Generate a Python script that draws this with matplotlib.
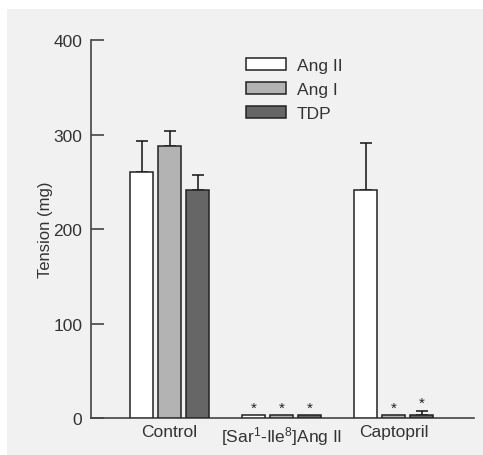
import matplotlib.pyplot as plt
import numpy as np
from matplotlib.patches import Rectangle

plt.rcParams['font.family'] = ['Liberation Sans', 'DejaVu Sans']
plt.rcParams['mathtext.default'] = 'regular'

groups = ['Control', '[Sar$^1$-Ile$^8$]Ang II', 'Captopril']
series = ['Ang II', 'Ang I', 'TDP']
colors = ['#ffffff', '#b3b3b3', '#666666']
ang2 = [260, 3.5, 241]
ang1 = [288, 3.5, 3.5]
tdp = [241, 3.5, 3.5]
ang2_err = [33, 0, 50]
ang1_err = [16, 0, 0]
tdp_err = [16, 0, 4.5]
starred = [[False, True, False], [False, True, True], [False, True, True]]

values = [ang2, ang1, tdp]
errors = [ang2_err, ang1_err, tdp_err]

fig = plt.figure(figsize=(4.83, 4.56), dpi=100)
fig.patch.set_facecolor('white')
# gray panel behind the chart, white margin at left and top
fig.add_artist(Rectangle((7 / 483, 0), 1, 1 - 10 / 456, transform=fig.transFigure,
                         facecolor='#f1f1f1', edgecolor='none', zorder=-10))
ax = fig.add_axes([0.1878, 0.0805, 0.7936, 0.8296])
ax.set_facecolor('none')

x = np.arange(len(groups))
offset = 0.25
width = 0.205
text_color = '#333333'

for i, name in enumerate(series):
    pos = x + (i - 1) * offset
    ax.bar(pos, values[i], width, color=colors[i], edgecolor='#222222', linewidth=1.1,
           label=name, zorder=3)
    for j in range(len(groups)):
        if errors[i][j] > 0:
            ax.errorbar(pos[j], values[i][j], yerr=[[0], [errors[i][j]]], fmt='none',
                        ecolor='#111111', elinewidth=1.1, capsize=4, capthick=1.1, zorder=2)
        if starred[i][j]:
            ax.text(pos[j], values[i][j] + errors[i][j] + 0.5, '*', ha='center', va='bottom',
                    fontsize=11, color='#222222')

ax.set_xlim(-0.705, 2.717)
ax.set_ylim(0, 400)
ax.set_yticks([0, 100, 200, 300, 400])
ax.set_xticks(x)
ax.set_xticklabels(groups, fontsize=12.5, color=text_color)
ax.tick_params(axis='x', length=0, pad=4)
ax.tick_params(axis='y', direction='in', length=9, width=1.2, colors='#444444',
               labelsize=12.5, labelcolor=text_color, pad=6)
for s in ['top', 'right']:
    ax.spines[s].set_visible(False)
for s in ['left', 'bottom']:
    ax.spines[s].set_color('#444444')
    ax.spines[s].set_linewidth(1.2)

ax.set_ylabel('Tension (mg)', fontsize=12, color=text_color, labelpad=0)

ax.legend(loc='upper left', bbox_to_anchor=(0.365, 0.995), frameon=False, fontsize=12.5,
          handlelength=2.3, handleheight=0.75, labelspacing=0.5, handletextpad=0.6,
          labelcolor=text_color)

fig.savefig('out.png', dpi=100)
